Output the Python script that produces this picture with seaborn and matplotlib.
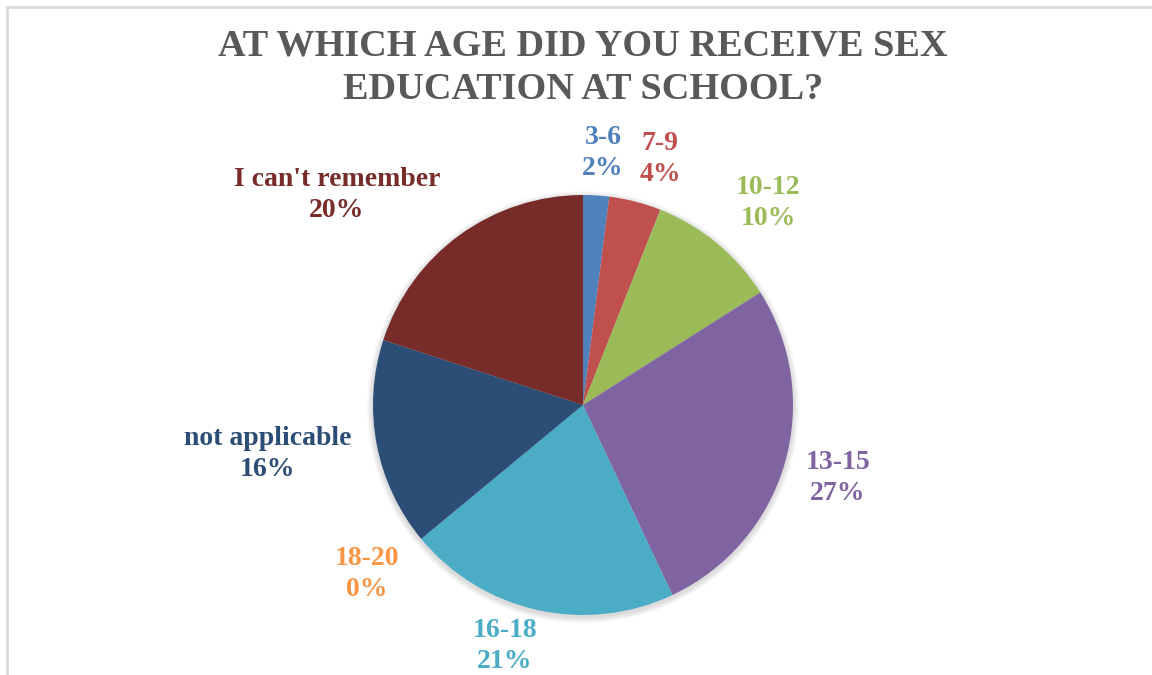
import matplotlib
matplotlib.use("Agg")
import matplotlib.pyplot as plt
import seaborn as sns
from matplotlib.patches import Rectangle, Circle

sns.set_theme(style="white")
plt.rcParams['font.family'] = ['Liberation Serif', 'DejaVu Serif']

categories = ["3-6", "7-9", "10-12", "13-15", "16-18", "18-20", "not applicable", "I can't remember"]
values = [2, 4, 10, 27, 21, 0, 16, 20]
colors = ["#4F81BD", "#C0504D", "#9BBB59", "#8064A2", "#4BACC6", "#F79646", "#2C4D75", "#772C2A"]
title = "AT WHICH AGE DID YOU RECEIVE SEX\nEDUCATION AT SCHOOL?"

# label centre positions (layout, pixel coords from top-left)
label_pos = [(603, 153), (660, 159), (768, 203), (838, 478), (505, 646), (367, 574), (268, 454), (337, 195)]

W, H = 1152, 675
fig = plt.figure(figsize=(W / 100, H / 100), dpi=100)
ax = fig.add_axes([0, 0, 1, 1])

cx, cy, r = 583, 405, 210

# soft shadow behind the pie
for k in range(6, 0, -1):
    ax.add_patch(Circle((cx, cy + 2), r + k, facecolor='black', edgecolor='none',
                        alpha=0.025, zorder=0))

wedges, _ = ax.pie(values, colors=colors, startangle=-90, counterclock=True,
                   center=(cx, cy), radius=r, frame=True,
                   wedgeprops=dict(linewidth=0, zorder=2))
ax.set_xlim(0, W)
ax.set_ylim(H, 0)
ax.set_aspect('equal')
ax.axis('off')

for cat, val, col, (x, y) in zip(categories, values, colors, label_pos):
    ax.text(x, y, f"{cat}\n{val}%", color=col, ha='center', va='center',
            fontsize=20, fontweight='bold', linespacing=1.3)

ax.text(583, 68, title, ha='center', va='center', fontsize=27.5, fontweight='bold',
        color='#595959', linespacing=1.3)

fig.patches.append(Rectangle((7 / W, -0.1), 1.2, 1 - 7 / H + 0.1, transform=fig.transFigure,
                             fill=False, edgecolor='#D9D9D9', linewidth=2))

fig.savefig("out.png", dpi=100)
